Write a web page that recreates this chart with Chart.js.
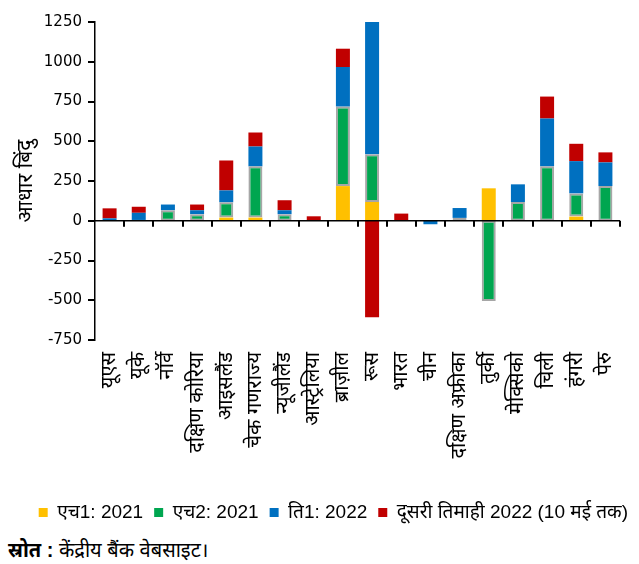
<!DOCTYPE html>
<html lang="hi">
<head>
<meta charset="utf-8">
<title>नीति दर में बदलाव</title>
<script src="https://cdn.jsdelivr.net/npm/chart.js@4"></script>
<style>
  html, body { margin: 0; padding: 0; background: #fff; }
  #wrap { width: 639px; height: 535px; position: relative; }
  #srot { font-family: "Liberation Sans", "Noto Sans", sans-serif; font-size: 20px; color: #000; margin: 1px 0 0 8px; }
  #srot b { font-weight: bold; }
</style>
</head>
<body>
<div id="wrap"><canvas id="grafik" width="639" height="535"></canvas></div>
<div id="srot"><b>स्रोत :</b> केंद्रीय बैंक वेबसाइट।</div>
<script>
// देश (x-अक्ष)
const desh = ["यूएस", "यूके", "नॉर्वे", "दक्षिण कोरिया", "आइसलैंड", "चेक गणराज्य", "न्यूजीलैंड", "आस्ट्रेलिया", "ब्राज़ील", "रूस", "भारत", "चीन", "दक्षिण अफ्रीका", "तुर्की", "मेक्सिको", "चिली", "हंगरी", "पेरु"];

// आधार बिंदु में बदलाव, अवधि अनुसार
const h1_2021 = [null, null, null, null, 20, 20, null, null, 218, 118, null, null, null, 204, null, null, 26, null];
const h2_2021 = [null, 5, 66, 41, 96, 322, 41, null, 500, 301, null, null, 18, -505, 118, 342, 146, 218];
const t1_2022 = [15, 45, 36, 25, 75, 125, 25, null, 249, 832, null, -22, 62, null, 111, 301, 203, 149];
const q2_2022 = [63, 38, null, 36, 188, 88, 63, 28, 115, -607, 45, null, null, null, null, 138, 109, 63];

const yTicks = [-750, -500, -250, 0, 250, 500, 750, 1000, 1250];

const font = '"Liberation Sans", "Noto Sans", sans-serif';

// शून्य रेखा, उस पर श्रेणी-विभाजक निशान और y-अक्ष के निशान
const akshNishan = {
  id: "akshNishan",
  afterDatasetsDraw(chart) {
    const { ctx, chartArea, scales: { x, y } } = chart;
    const y0 = y.getPixelForValue(0);
    const step = x.getPixelForValue(1) - x.getPixelForValue(0);
    const start = x.getPixelForValue(0) - step / 2;
    ctx.save();
    ctx.strokeStyle = "#000";
    ctx.lineWidth = 1.5;
    ctx.beginPath();
    ctx.moveTo(chartArea.left, y0);
    ctx.lineTo(chartArea.right, y0);
    ctx.stroke();
    ctx.lineWidth = 2;
    ctx.beginPath();
    for (let i = 1; i <= desh.length; i++) {
      const px = Math.round(start + i * step);
      ctx.moveTo(px, y0);
      ctx.lineTo(px, y0 + 6);
    }
    yTicks.forEach(v => {
      const py = Math.round(y.getPixelForValue(v));
      ctx.moveTo(chartArea.left - 7, py);
      ctx.lineTo(chartArea.left, py);
    });
    ctx.stroke();
    ctx.restore();
  }
};

new Chart(document.getElementById("grafik"), {
  type: "bar",
  data: {
    labels: desh,
    datasets: [
      { label: "एच1: 2021", data: h1_2021, backgroundColor: "#FFC000", borderWidth: 0 },
      { label: "एच2: 2021", data: h2_2021, backgroundColor: "#00A650", borderColor: "#A6A6A6", borderWidth: 2, borderSkipped: false },
      { label: "ति1: 2022", data: t1_2022, backgroundColor: "#0070C0", borderWidth: 0 },
      { label: "दूसरी तिमाही 2022 (10 मई तक)", data: q2_2022, backgroundColor: "#C00000", borderWidth: 0 }
    ]
  },
  plugins: [akshNishan],
  options: {
    responsive: false,
    animation: false,
    maintainAspectRatio: false,
    devicePixelRatio: 1,
    layout: { padding: { top: 15, right: 0, left: 0, bottom: 3 } },
    datasets: { bar: { categoryPercentage: 1, barPercentage: 0.48 } },
    scales: {
      x: {
        stacked: true,
        afterFit: s => { s.height = 152; },
        grid: { display: false },
        border: { display: false },
        ticks: { color: "#000", font: { family: font, size: 20 }, minRotation: 90, maxRotation: 90, autoSkip: false, padding: 4 }
      },
      y: {
        stacked: true,
        min: -750,
        max: 1250,
        afterBuildTicks: s => { s.ticks = yTicks.map(v => ({ value: v })); },
        afterFit: s => { s.width = 95; },
        grid: { display: false, drawTicks: false },
        border: { display: true, color: "#000", width: 1.5 },
        ticks: { color: "#000", font: { family: '"DejaVu Sans", sans-serif', size: 15 }, padding: 13, callback: v => String(v) },
        title: { display: true, text: "आधार बिंदु", color: "#000", font: { family: font, size: 21 }, padding: { top: 14, bottom: 0 } }
      },
      // दाईं ओर खाली जगह
      yR: {
        position: "right",
        afterFit: s => { s.width = 19; },
        grid: { display: false, drawTicks: false },
        border: { display: false },
        ticks: { display: false }
      }
    },
    plugins: {
      legend: {
        position: "bottom",
        align: "end",
        labels: {
          color: "#000",
          font: { family: font, size: 19 },
          boxWidth: 9,
          boxHeight: 9,
          padding: 11,
          generateLabels: chart => Chart.defaults.plugins.legend.labels.generateLabels(chart).map(l => Object.assign(l, { strokeStyle: l.fillStyle, lineWidth: 0 }))
        }
      },
      tooltip: { enabled: false }
    }
  }
});
</script>
</body>
</html>
